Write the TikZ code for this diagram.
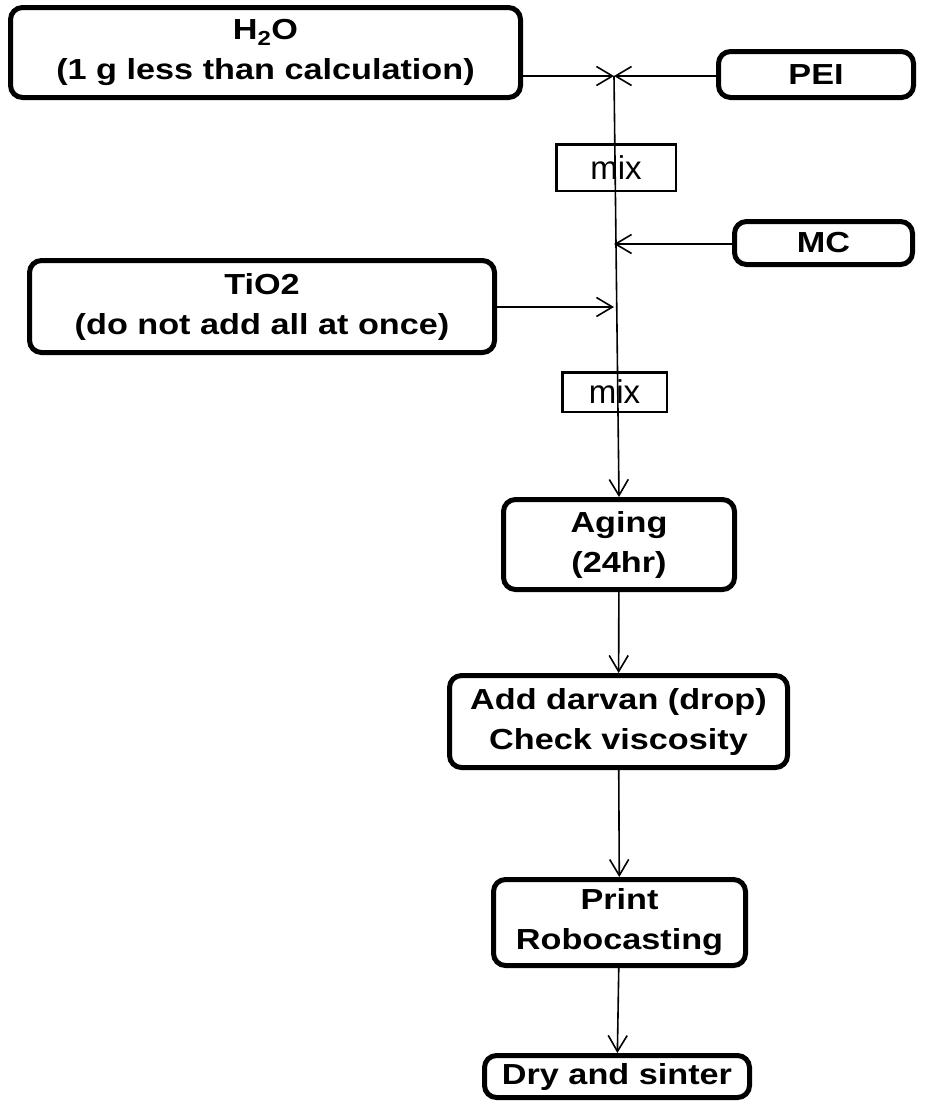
\documentclass[tikz,border=0pt]{standalone}
\usepackage{fontspec}
\setmainfont{Liberation Sans}[FakeStretch=1.18]
\newfontfamily\mixfont{Liberation Sans}
\usetikzlibrary{arrows.meta}

\tikzset{
  stepbox/.style={draw, line width=5pt, rounded corners=12pt, align=center, inner sep=0pt,
    font=\bfseries\fontsize{29}{40}\selectfont},
  mixbox/.style={draw, line width=2.5pt, inner sep=0pt, font=\mixfont\fontsize{33}{38}\selectfont},
  flow/.style={line width=1.6pt, -{Straight Barb[length=16pt,width=19pt,line width=1.6pt]}},
}

\begin{document}
\begin{tikzpicture}[x=1pt,y=-1pt]
\useasboundingbox (0,0) rectangle (932,1103);
% ingredients
\node[stepbox, minimum width=510pt, minimum height=90pt] (h2o) at (265.5,52.5) {H\textsubscript{2}O\\(1 g less than calculation)};
\node[stepbox, minimum width=195pt, minimum height=46pt] (pei) at (816,74.5) {PEI};
\node[stepbox, minimum width=178pt, minimum height=43pt] (mc) at (823.5,243) {MC};
\node[stepbox, minimum width=465pt, minimum height=92pt] (tio2) at (262,306.5) {TiO2\\(do not add all at once)};
\node[mixbox, minimum width=119.5pt, minimum height=46.5pt] (mix1) at (616,167.5) {mix};
\node[mixbox, minimum width=104.5pt, minimum height=39.5pt] (mix2) at (614.5,392) {mix};
% process steps
\node[stepbox, minimum width=231pt, minimum height=90pt] (aging) at (619,544.5) {Aging\\(24hr)};
\node[stepbox, minimum width=338pt, minimum height=92pt] (darvan) at (618.5,721.5) {Add darvan (drop)\\Check viscosity};
\node[stepbox, minimum width=252pt, minimum height=86pt] (print) at (619.5,922.5) {Print\\Robocasting};
\node[stepbox, minimum width=265pt, minimum height=42pt] (dry) at (617,1076.5) {Dry and sinter};
% junctions on the main line
\coordinate (j1) at (614,76);
\coordinate (j2) at (614,244);
\coordinate (j3) at (614,307);
\draw[flow] (h2o.east |- j1) -- (j1);
\draw[flow] (pei.west |- j1) -- (j1);
\draw[flow] (mc.west |- j2) -- (j2);
\draw[flow] (tio2.east |- j3) -- (j3);
\draw[flow] (j1) -- (aging.north);
\draw[flow] (aging) -- (darvan);
\draw[flow] (darvan) -- (print);
\draw[flow] (print) -- (dry);
\end{tikzpicture}
\end{document}
